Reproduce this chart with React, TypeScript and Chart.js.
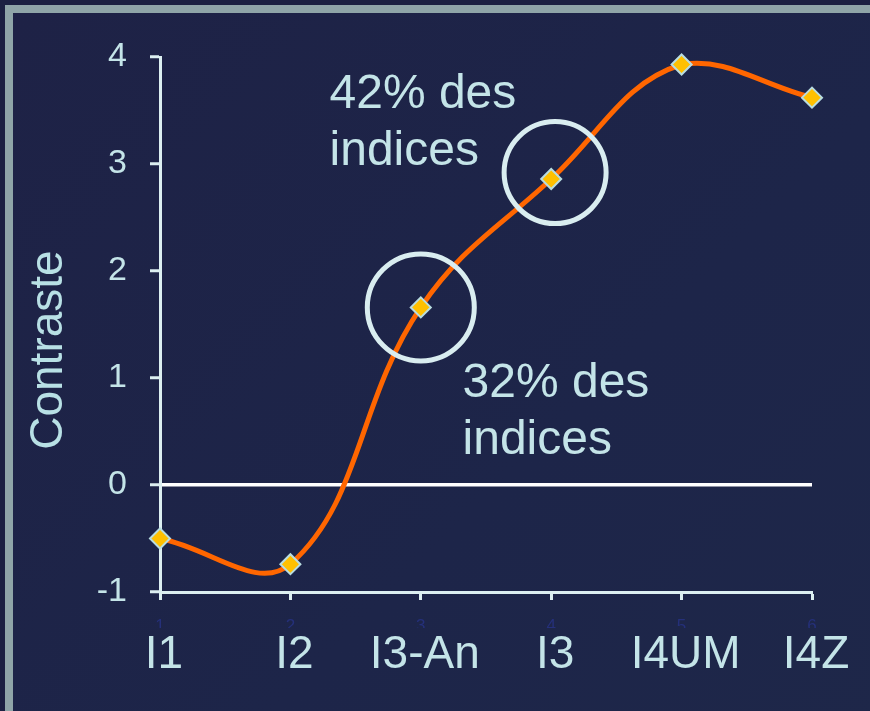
import React, { useEffect, useRef } from "react";
import { Chart, registerables } from "chart.js";

Chart.register(...registerables);

const categories = ["I1", "I2", "I3-An", "I3", "I4UM", "I4Z"];
const positions = [1, 2, 3, 4, 5, 6];
const contraste = [-0.5, -0.74, 1.66, 2.86, 3.93, 3.62];
const yMin = -1;
const yMax = 4;

// annotations in data units
const noteLines = [
  ["42% des", "indices"],
  ["32% des", "indices"],
];
const noteX = [2.3, 3.32];
const noteY = [3.52, 0.82];
const circleX = [3.0, 4.03];
const circleY = [1.66, 2.92];

const FONT = "'Liberation Sans', Arial, sans-serif";
const LIGHT = "#dcefF1";
const TEXT = "#c4e4e8";

const annotationPlugin = {
  id: "notes",
  afterDatasetsDraw(chart: any) {
    const { ctx, scales } = chart;
    const xs = scales.x;
    const ys = scales.y;
    ctx.save();
    ctx.strokeStyle = "#d9edf0";
    ctx.lineWidth = 5;
    const radii = [53.5, 51];
    circleX.forEach((cx, i) => {
      ctx.beginPath();
      ctx.arc(xs.getPixelForValue(cx), ys.getPixelForValue(circleY[i]), radii[i], 0, Math.PI * 2);
      ctx.stroke();
    });
    ctx.fillStyle = TEXT;
    ctx.font = `48px ${FONT}`;
    ctx.textAlign = "left";
    ctx.textBaseline = "alphabetic";
    noteLines.forEach((lines, i) => {
      const px = xs.getPixelForValue(noteX[i]);
      const py = ys.getPixelForValue(noteY[i]);
      lines.forEach((t, j) => ctx.fillText(t, px, py + j * 57));
    });
    ctx.restore();
  },
};

export default function App() {
  const ref = useRef<HTMLCanvasElement>(null);
  useEffect(() => {
    const chart = new Chart(ref.current!, {
      type: "line",
      data: {
        datasets: [
          {
            data: positions.map((p, i) => ({ x: p, y: contraste[i] })),
            borderColor: "#ff6600",
            borderWidth: 5,
            tension: 0.4,
            clip: false,
            pointStyle: "rectRot",
            pointRadius: 10,
            pointBackgroundColor: "#ffc000",
            pointBorderColor: "#b9dde0",
            pointBorderWidth: 2,
            xAxisID: "x",
            yAxisID: "y",
          },
        ],
      },
      options: {
        animation: false,
        responsive: false,
        devicePixelRatio: 1,
        layout: { padding: { left: 0, top: 57, right: 58, bottom: 0 } },
        plugins: { legend: { display: false }, tooltip: { enabled: false } },
        scales: {
          y: {
            type: "linear",
            min: yMin,
            max: yMax,
            afterFit: (s: any) => {
              s.width = 160;
            },
            ticks: {
              stepSize: 1,
              color: TEXT,
              font: { size: 34, family: FONT },
              padding: 23,
            },
            grid: {
              drawOnChartArea: true,
              color: (c: any) => (c.tick && c.tick.value === 0 ? "#ffffff" : "rgba(0,0,0,0)"),
              lineWidth: 3.5,
              tickColor: LIGHT,
              tickLength: 10,
              tickWidth: 3,
            },
            border: { display: true, color: LIGHT, width: 3 },
            title: {
              display: true,
              text: "Contraste    ",
              color: "#b8e0e5",
              font: { size: 46, family: FONT },
              padding: { top: 22, bottom: 0 },
            },
          },
          x: {
            type: "linear",
            position: "bottom",
            min: 1,
            max: 6,
            afterFit: (s: any) => {
              s.height = 36;
            },
            ticks: {
              stepSize: 1,
              color: "#25307a",
              font: { size: 17, family: FONT },
              padding: 16,
            },
            grid: {
              drawOnChartArea: false,
              tickColor: LIGHT,
              tickLength: 8,
              tickWidth: 3,
            },
            border: { display: true, color: LIGHT, width: 3 },
          },
          x2: {
            type: "linear",
            position: "bottom",
            min: 1,
            max: 6,
            afterFit: (s: any) => {
              s.height = 83;
            },
            ticks: {
              stepSize: 1,
              color: TEXT,
              font: { size: 46, family: FONT },
              padding: 0,
              labelOffset: 4,
              maxRotation: 0,
              autoSkip: false,
              callback: (v: any) => categories[Number(v) - 1] ?? "",
            },
            grid: { display: false, drawTicks: false },
            border: { display: false },
          },
        },
      },
      plugins: [annotationPlugin],
    } as any);
    return () => chart.destroy();
  }, []);

  return (
    <div style={{ position: "fixed", left: 0, top: 0, width: 870, height: 711, background: "#1c2142", overflow: "hidden" }}>
      <div
        style={{
          position: "absolute",
          left: 5,
          top: 5,
          width: 900,
          height: 703,
          border: "8px solid #8fa5a8",
          background: "linear-gradient(135deg, #1e2246 0%, #1d2549 60%, #1e2749 100%)",
        }}
      />
      <canvas ref={ref} width={870} height={711} style={{ position: "absolute", left: 0, top: 0, width: 870, height: 711 }} />
    </div>
  );
}
